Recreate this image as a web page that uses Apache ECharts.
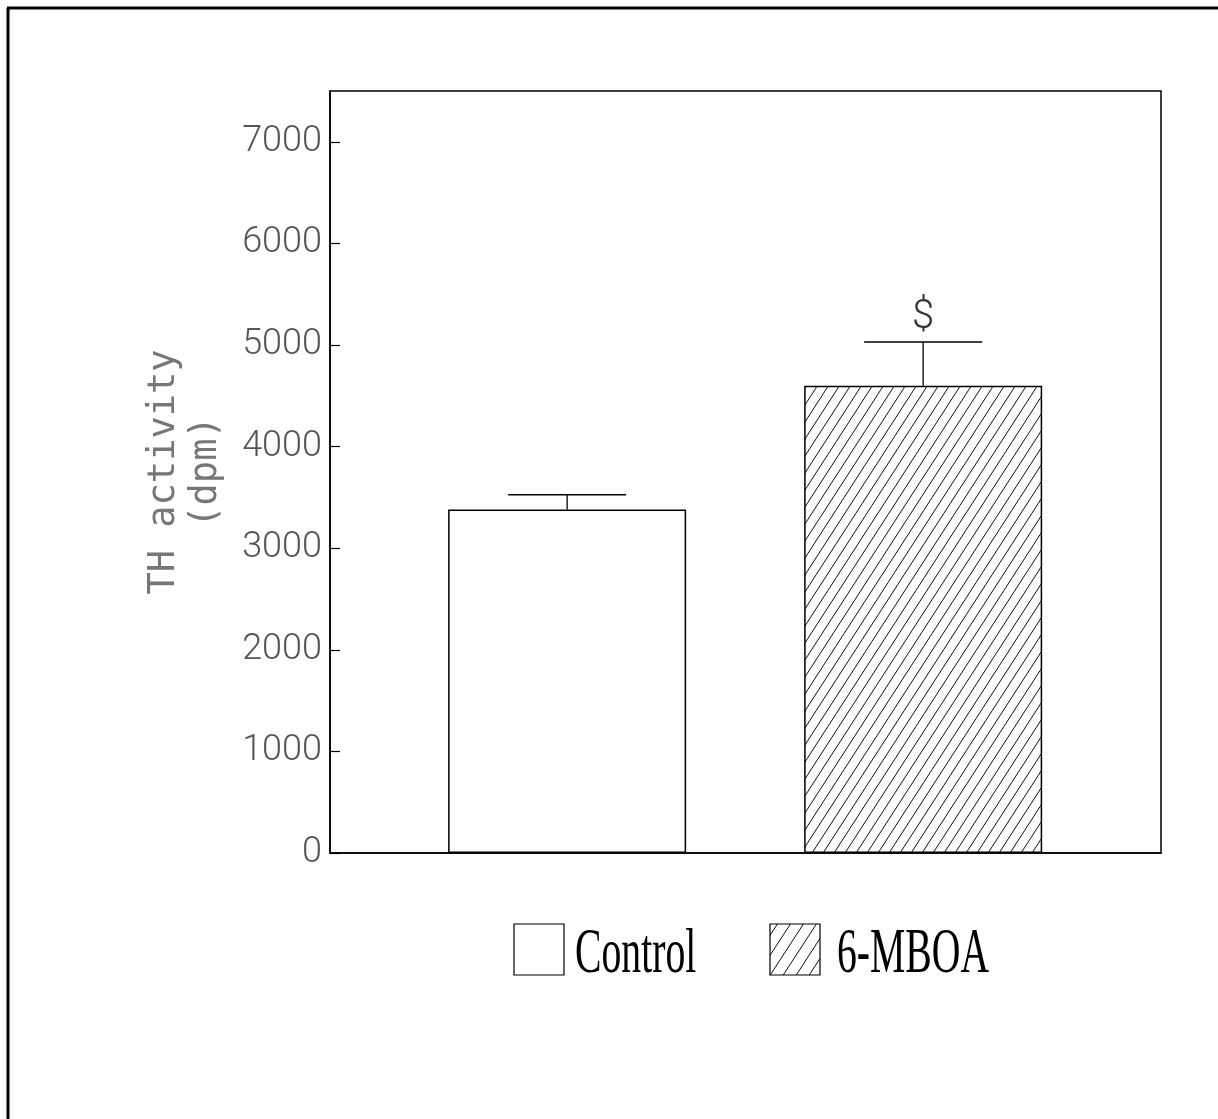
<!DOCTYPE html>
<html>
<head>
<meta charset="utf-8">
<script src="https://cdn.jsdelivr.net/npm/echarts@6/dist/echarts.min.js"></script>
<style>
html,body{margin:0;padding:0;background:#fff;}
#chart{width:1218px;height:1119px;}
</style>
</head>
<body>
<div id="chart"></div>
<script>
// ---- data ----
var categories = ['Control', '6-MBOA'];
var positions = [1, 2];
var means = [3380, 4600];
var errors = [145, 430];
var sigLabels = ['', '$'];
var yTicks = [0, 1000, 2000, 3000, 4000, 5000, 6000, 7000];

// ---- hatch pattern ----
function makeHatch(w, h) {
  var c = document.createElement('canvas');
  c.width = w; c.height = h;
  var ctx = c.getContext('2d');
  ctx.fillStyle = '#fff';
  ctx.fillRect(0, 0, w, h);
  ctx.strokeStyle = '#111';
  ctx.lineWidth = 1.0;
  for (var k = -1; k <= 1; k++) {
    ctx.beginPath();
    ctx.moveTo(k * w, h);
    ctx.lineTo(k * w + w, 0);
    ctx.stroke();
  }
  return c;
}
var hatch = { image: makeHatch(11, 17), repeat: 'repeat' };
var hatchLegend = { image: makeHatch(13, 20), repeat: 'repeat' };
var fills = ['#ffffff', hatch];

var chart = echarts.init(document.getElementById('chart'), null, { renderer: 'canvas' });

var barData = positions.map(function (p, i) {
  return { value: [p, means[i]], name: categories[i], itemStyle: { color: fills[i] } };
});
var errData = positions.map(function (p, i) {
  return [p, means[i], means[i] + errors[i], i];
});

var tickFont = 'Roboto, "Noto Sans", sans-serif';

var option = {
  backgroundColor: '#fff',
  animation: false,
  grid: { left: 330, right: 57, top: 91, bottom: 266, show: true, borderColor: '#000', borderWidth: 1.5, backgroundColor: 'transparent' },
  xAxis: {
    type: 'value', min: 0.334, max: 2.668,
    axisLine: { show: true, lineStyle: { color: '#000', width: 1.5 } },
    axisTick: { show: false }, axisLabel: { show: false }, splitLine: { show: false }
  },
  yAxis: {
    type: 'value', min: 0, max: 7500, interval: 1000,
    name: 'TH activity\n(dpm)',
    nameLocation: 'middle', nameRotate: 90, nameGap: 103,
    nameTextStyle: { fontSize: 37, color: '#777', fontFamily: '"DejaVu Sans Mono", monospace', fontWeight: 300, lineHeight: 42 },
    axisLine: { show: true, lineStyle: { color: '#000', width: 1.5 } },
    axisTick: { show: true, inside: true, length: 10, lineStyle: { color: '#000', width: 1.2 } },
    axisLabel: {
      show: true, showMaxLabel: false, margin: 8, fontSize: 36, color: '#555', fontFamily: tickFont, fontWeight: 300,
      formatter: function (v) { return yTicks.indexOf(v) >= 0 ? String(v) : ''; }
    },
    splitLine: { show: false }
  },
  series: [
    {
      type: 'bar', data: barData, barWidth: 238,
      itemStyle: { borderColor: '#000', borderWidth: 1.5 },
      z: 2
    },
    {
      type: 'custom', data: errData, z: 3,
      renderItem: function (params, api) {
        var x = api.value(0);
        var p0 = api.coord([x, api.value(1)]);
        var p1 = api.coord([x, api.value(2)]);
        var idx = api.value(3);
        var half = 59;
        var children = [
          { type: 'line', shape: { x1: p0[0], y1: p0[1], x2: p1[0], y2: p1[1] }, style: { stroke: '#000', lineWidth: 1.3 } },
          { type: 'line', shape: { x1: p1[0] - half, y1: p1[1], x2: p1[0] + half, y2: p1[1] }, style: { stroke: '#000', lineWidth: 1.5 } }
        ];
        if (sigLabels[idx]) {
          children.push({ type: 'text', style: { text: sigLabels[idx], x: p1[0], y: p1[1] - 24, align: 'center', verticalAlign: 'middle', font: '300 40px ' + tickFont, fill: '#333' } });
        }
        return { type: 'group', children: children };
      }
    }
  ],
  graphic: [
    { type: 'line', shape: { x1: 7, y1: 8, x2: 1218, y2: 8 }, style: { stroke: '#000', lineWidth: 3 } },
    { type: 'line', shape: { x1: 8, y1: 8, x2: 8, y2: 1119 }, style: { stroke: '#000', lineWidth: 3 } },
    { type: 'rect', shape: { x: 514, y: 924, width: 50, height: 51 }, style: { fill: '#fff', stroke: '#000', lineWidth: 1.2 } },
    { type: 'text', x: 575, y: 955, scaleX: 0.63, style: { text: categories[0], x: 0, y: 0, align: 'left', verticalAlign: 'middle', font: '63px "Liberation Serif", "Times New Roman", serif', fill: '#000' } },
    { type: 'rect', shape: { x: 770, y: 924, width: 50, height: 51 }, style: { fill: hatchLegend, stroke: '#000', lineWidth: 1.2 } },
    { type: 'text', x: 837, y: 955, scaleX: 0.63, style: { text: categories[1], x: 0, y: 0, align: 'left', verticalAlign: 'middle', font: '63px "Liberation Serif", "Times New Roman", serif', fill: '#000' } }
  ]
};
chart.setOption(option);
</script>
</body>
</html>
